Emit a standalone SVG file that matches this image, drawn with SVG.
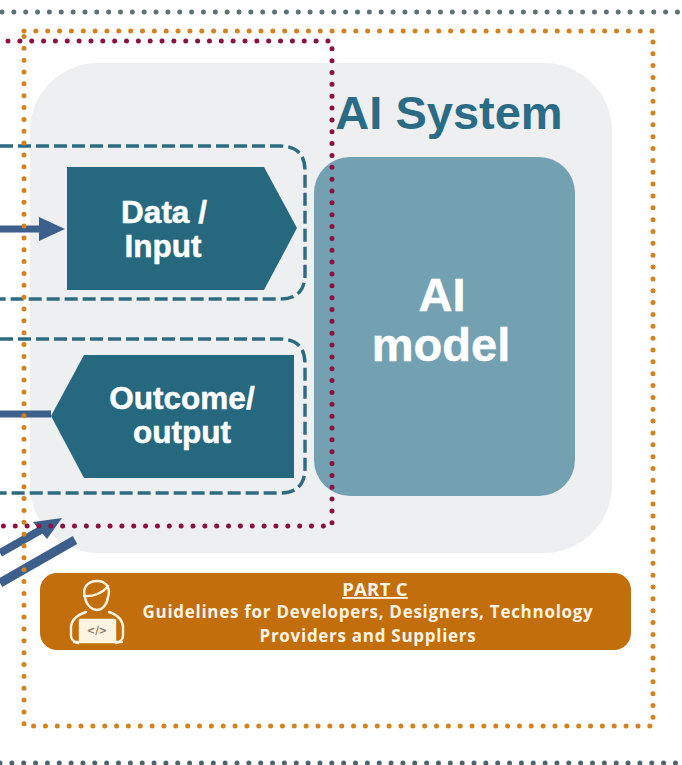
<svg xmlns="http://www.w3.org/2000/svg" width="682" height="765" viewBox="0 0 682 765">
<defs>
<style>
.lbl{font-family:"Liberation Sans",Arial,sans-serif;font-weight:700;fill:#fff;text-anchor:middle;stroke:#fff;stroke-width:.5}
.bar{font-family:"Open Sans","Noto Sans",sans-serif;font-weight:700;fill:#fdf3e3;text-anchor:middle;font-size:17px;letter-spacing:.72px}
.dot{fill:none;stroke-linecap:round;stroke-width:5}
.dash{fill:none;stroke:#2c6b80;stroke-width:3.4;stroke-dasharray:13 5}
.flow{fill:none;stroke:#3d5f8c;stroke-width:7}
.ic{fill:none;stroke:#fdf3e3;stroke-width:2.4;stroke-linecap:round;stroke-linejoin:round}
</style>
</defs>
<rect width="682" height="765" fill="#fff"/>
<g id="panel-ai-system">
<rect x="30" y="63" width="582" height="490" rx="68" fill="#edeff0"/>
<text x="449" y="129" font-family="'Liberation Sans',Arial,sans-serif" font-weight="700" font-size="47" fill="#2a6b85" text-anchor="middle">AI System</text>
</g>
<g id="node-ai-model">
<rect x="314" y="157" width="261" height="339" rx="36" fill="#73a1b2"/>
<text class="lbl" x="442" y="311" font-size="47">AI</text>
<text class="lbl" x="441" y="361" font-size="47">model</text>
</g>
<g id="node-data-input">
<polygon points="67,167 264,167 297,228 264,290 67,290" fill="#26697f"/>
<text class="lbl" x="164" y="223" font-size="31.5">Data /</text>
<text class="lbl" x="163" y="257" font-size="31.5">Input</text>
</g>
<g id="node-outcome-output">
<polygon points="294,355 294,478 84,478 51,416 84,355" fill="#26697f"/>
<text class="lbl" x="182" y="409" font-size="31.5">Outcome/</text>
<text class="lbl" x="182" y="443" font-size="31.5">output</text>
</g>
<g id="node-part-c">
<rect x="40" y="573" width="591" height="77" rx="17" fill="#c26e0c"/>
<text class="bar" x="375" y="596" style="font-size:18.5px;letter-spacing:.3px" text-decoration="underline">PART C</text>
<text class="bar" x="368" y="618">Guidelines for Developers, Designers, Technology</text>
<text class="bar" x="368" y="642">Providers and Suppliers</text>
<g id="icon-developer" class="ic">
<path d="M85 597c-3-10 3-16 12-16s14 7 11 16c-1 8-6 13-11 13s-11-5-12-13z"/>
<path d="M84 596c9 1 19-3 24-10" />
<path d="M86 612c-9 3-15 8-15 16v8c0 3 3 6 7 7M109 612c9 3 14 8 14 16v8c0 3-3 6-7 7"/>
<rect x="80" y="620" width="35" height="21" fill="#fdf3e3" stroke="#fdf3e3"/>
<path d="M74 642h48"/>
<text x="97" y="634" font-family="'DejaVu Sans',sans-serif" font-size="10" font-weight="700" fill="#8a7a62" stroke="none" text-anchor="middle">&lt;/&gt;</text>
</g>
</g>
<g id="connectors">
<path class="flow" d="M0 229H42"/>
<polygon points="39,217 65,229 39,241" fill="#3d5f8c"/>
<path class="flow" d="M0 414H51"/>
<path class="flow" style="stroke-width:8" d="M0 553L46 527"/>
<polygon points="33,522 62,518 47,539" fill="#3d5f8c"/>
<path class="flow" style="stroke-width:9" d="M0 583L75 540"/>
<path class="dash" d="M0 146H280Q305 146 305 171V274Q305 299 280 299H0"/>
<path class="dash" d="M0 339H280Q305 339 305 364V468Q305 493 280 493H0"/>
</g>
<g id="boundaries">
<path class="dot" stroke="#5f7273" stroke-dasharray="0 11.85" d="M2 12H682"/>
<path class="dot" stroke="#4f6468" stroke-dasharray="0 11.85" d="M0 763H682"/>
<path class="dot" stroke="#d2831f" stroke-dasharray="0 11.85" d="M24 31H653V726H24Z"/>
<path class="dot" stroke="#8a1240" stroke-dasharray="0 11.85" d="M8 41H332V526H0"/>
</g>
</svg>
